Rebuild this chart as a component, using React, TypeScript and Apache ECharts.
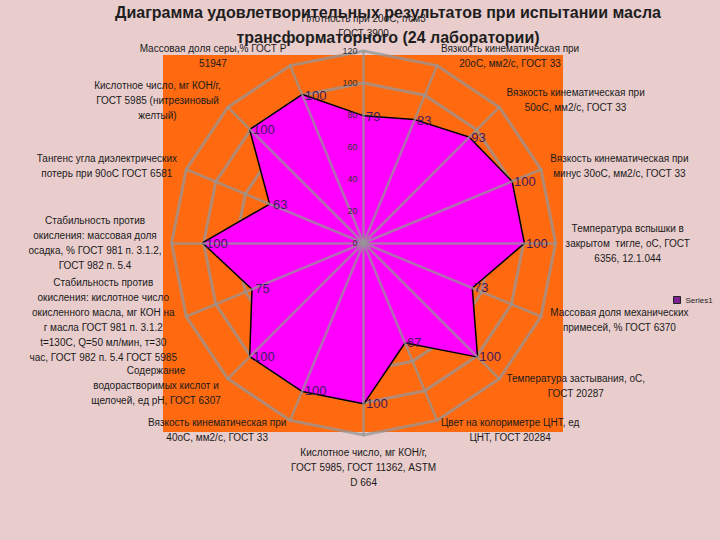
import React, { useEffect, useRef } from "react";
import * as echarts from "echarts";

const titleLines = [
  "Диаграмма удовлетворительных результатов при испытании масла",
  "трансформаторного (24 лаборатории)",
];

// Indicators in clockwise order starting from the top (as in the reference)
const indicatorNames = [
  "Плотность при 20оС, г/см3\nГОСТ 3900",
  "Вязкость кинематическая при\n20оС, мм2/с, ГОСТ 33",
  "Вязкость кинематическая при\n50оС, мм2/с, ГОСТ 33",
  "Вязкость кинематическая при\nминус 30оС, мм2/с, ГОСТ 33",
  "Температура вспышки в\nзакрытом  тигле, оС, ГОСТ\n6356, 12.1.044",
  "Массовая доля механических\nпримесей, % ГОСТ 6370",
  "Температура застывания, оС,\nГОСТ 20287",
  "Цвет на колориметре ЦНТ, ед\nЦНТ, ГОСТ 20284",
  "Кислотное число, мг КОН/г,\nГОСТ 5985, ГОСТ 11362, ASTM\nD 664",
  "Вязкость кинематическая при\n40оС, мм2/с, ГОСТ 33",
  "Содержание\nводорастворимых кислот и\nщелочей, ед pH, ГОСТ 6307",
  "Стабильность против\nокисления: кислотное число\nокисленного масла, мг КОН на\nг масла ГОСТ 981 п. 3.1.2\nt=130С, Q=50 мл/мин, т=30\nчас, ГОСТ 982 п. 5.4 ГОСТ 5985",
  "Стабильность против\nокисления: массовая доля\nосадка, % ГОСТ 981 п. 3.1.2,\nГОСТ 982 п. 5.4",
  "Тангенс угла диэлектрических\nпотерь при 90оС ГОСТ 6581",
  "Кислотное число, мг КОН/г,\nГОСТ 5985 (нитрезиновый\nжелтый)",
  "Массовая доля серы,% ГОСТ Р\n51947",
];

const seriesName = "Series1";
const seriesValues = [79, 83, 93, 100, 100, 73, 100, 67, 100, 100, 100, 75, 100, 63, 100, 100];

const axisMin = 0;
const axisMax = 120;
const axisSplits = 6;

const FONT = "Liberation Sans";

export default function App() {
  const ref = useRef<HTMLDivElement>(null);

  useEffect(() => {
    document.body.style.margin = "0";
    if (!ref.current) return;
    const chart = echarts.init(ref.current, null, { renderer: "svg" });

    // ECharts places radar indicators counter-clockwise; reorder to get clockwise layout
    const order = [0, ...indicatorNames.slice(1).map((_, i) => indicatorNames.length - 1 - i)];
    const indicators = order.map((i) => ({ name: indicatorNames[i], min: axisMin, max: axisMax }));
    const values = order.map((i) => seriesValues[i]);

    const center = ["50.5%", "45%"];
    const radius = 192;
    const gridColor = "rgba(150,150,150,0.75)";

    chart.setOption({
      animation: false,
      backgroundColor: "#e9cdcd",
      title: {
        text: titleLines.join("\n"),
        left: 388,
        textAlign: "center",
        top: 0,
        padding: 0,
        textStyle: {
          fontFamily: FONT,
          fontSize: 16,
          fontWeight: "bold",
          color: "#1e1e1e",
          lineHeight: 25,
        },
      },
      legend: {
        left: 668,
        top: 291,
        icon: "rect",
        itemWidth: 7,
        itemHeight: 7,
        itemGap: 3,
        textStyle: { fontFamily: FONT, fontSize: 8, color: "#222" },
        data: [
          {
            name: seriesName,
            itemStyle: { color: "#7b2290", borderColor: "#222", borderWidth: 1 },
          },
        ],
      },
      graphic: [
        {
          type: "rect",
          z: -1,
          shape: { x: 163, y: 55, width: 400, height: 377 },
          style: { fill: "#ff6a10" },
        },
      ],
      radar: [
        {
          center,
          radius,
          startAngle: 90,
          shape: "polygon",
          splitNumber: axisSplits,
          indicator: indicators,
          z: 1,
          axisName: {
            show: true,
            formatter: (name: string) =>
              name
                .split("\n")
                .map((l) => "{c|" + l + "}")
                .join("\n"),
            rich: {
              c: {
                align: "center",
                fontFamily: FONT,
                fontSize: 10,
                color: "#1a1a1a",
                lineHeight: 15,
              },
            },
          },
          nameGap: 10,
          axisLine: { show: false },
          splitLine: { show: true, lineStyle: { color: gridColor, width: 3 } },
          splitArea: { show: false },
        },
        {
          center,
          radius,
          startAngle: 90,
          shape: "polygon",
          splitNumber: axisSplits,
          indicator: indicators.map((d) => ({ ...d, name: "" })),
          z: 5,
          axisName: { show: false },
          axisLine: { show: true, lineStyle: { color: gridColor, width: 2.5 } },
          splitLine: { show: false },
          splitArea: { show: false },
        },
        {
          center,
          radius,
          startAngle: 90,
          splitNumber: axisSplits,
          indicator: [{ name: "", min: axisMin, max: axisMax }],
          z: 6,
          axisName: { show: false },
          axisLine: { show: false },
          splitLine: { show: false },
          splitArea: { show: false },
          axisLabel: {
            show: true,
            fontFamily: FONT,
            fontSize: 9,
            color: "#333",
            margin: 6,
          },
        },
      ],
      series: [
        {
          type: "radar",
          name: seriesName,
          radarIndex: 0,
          z: 3,
          symbol: "none",
          lineStyle: { color: "#000", width: 3 },
          areaStyle: { color: "#ff00ff", opacity: 1 },
          itemStyle: { color: "#000" },
          data: [{ value: values, name: seriesName }],
        },
        {
          type: "radar",
          name: seriesName,
          radarIndex: 0,
          z: 8,
          symbol: "circle",
          symbolSize: 1,
          lineStyle: { opacity: 0 },
          itemStyle: { color: "rgba(0,0,0,0)" },
          label: {
            show: true,
            position: "right",
            distance: 2,
            fontFamily: FONT,
            fontSize: 13,
            color: "#3f1a5c",
          },
          data: [{ value: values, name: seriesName }],
        },
      ],
    });

    return () => chart.dispose();
  }, []);

  return <div ref={ref} style={{ width: 720, height: 540 }} />;
}
